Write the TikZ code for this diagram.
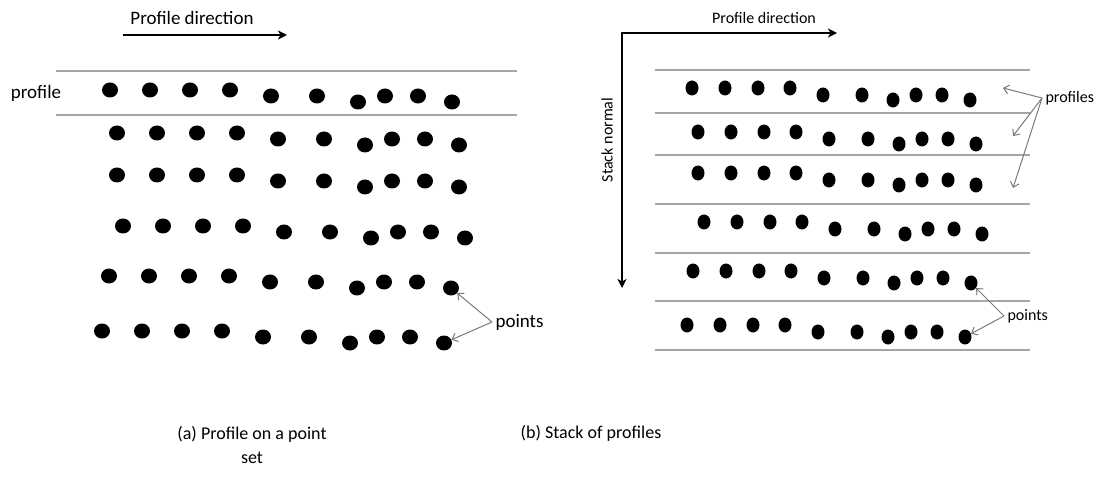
\documentclass[tikz,border=0pt]{standalone}
\usepackage{fontspec}
\setmainfont{Carlito}
\usetikzlibrary{arrows.meta,positioning,shapes.geometric}
\definecolor{rulegray}{HTML}{A6A6A6}
\definecolor{ptrgray}{HTML}{7A7A7A}
\tikzset{
  headtip/.tip={Stealth[length=9pt,width=9pt,inset=2.5pt]},
  axis/.style={line width=1.8pt},
  rule/.style={draw=rulegray,line width=2pt},
  pointer/.style={-{Straight Barb[length=5pt,width=9pt]},draw=ptrgray,line width=1pt},
  dotA/.style={ellipse,fill=black,inner sep=0pt,minimum width=16pt,minimum height=15pt},
  dotB/.style={ellipse,fill=black,inner sep=0pt,minimum width=13pt,minimum height=15pt},
  lbl/.style={font=\fontsize{19}{23}\selectfont},
  lblsmall/.style={font=\fontsize{16}{19}\selectfont},
  caption/.style={font=\fontsize{18}{24}\selectfont,align=center}
}

\begin{document}
\begin{tikzpicture}[x=1pt,y=-1pt]
  \useasboundingbox (0,0) rectangle (1105,486);
  % (a) one profile on the point set
  \draw[rule] (56,71) -- (517,71) (56,115) -- (517,115);
  \foreach \rx/\ry [count=\r] in {110/90,117/133,117/175,123/226,109/276,102/331}
    \foreach \dx/\dy [count=\c] in {0/0,40/0,80/0,120/0,161/6,207/6,248/12,275/6,308/6,342/12}
      \node[dotA] (a-\r-\c) at (\rx+\dx,\ry+\dy) {};
  \node[lbl] (dirA) at (192,18) {Profile direction};
  \coordinate (dirA-s) at (123,35);
  \coordinate (dirA-e) at (287,35);
  \draw[axis,-headtip] (dirA-s) -- (dirA-e);
  \node[lbl] (profA) at (36,93) {profile};
  \node[lbl,anchor=west] (ptsA) at (492,322) {points};
  \draw[pointer] (ptsA.west) -- (a-5-10);
  \draw[pointer] (ptsA.west) -- (a-6-10);
  \node[caption] (capA) at (252,445) {(a) Profile on a point\\set};

  % (b) stacked profiles
  \foreach \y in {70,113,155,204,253,301,350} \draw[rule] (655,\y) -- (1030,\y);
  \foreach \rx/\ry [count=\r] in {692/88,698/132,698/173,704/222,693/271,687/325}
    \foreach \dx/\dy [count=\c] in {0/0,33/0,66/0,98/0,131/7,170/7,201/12,224/7,250/7,278/12}
      \node[dotB] (b-\r-\c) at (\rx+\dx,\ry+\dy) {};
  \coordinate (org) at (622,33);
  \coordinate (dirB-e) at (837,33);
  \coordinate (nrm-e) at (622,288);
  \draw[axis,headtip-headtip] (dirB-e) -- (org) -- (nrm-e);
  \node[lblsmall] (dirB) at (764,18) {Profile direction};
  \node[lblsmall,rotate=90] (nrm) at (607,140) {Stack normal};
  \node[lblsmall,anchor=west] (profB) at (1042,98) {profiles};
  \coordinate (profB-1) at (1003,88);
  \coordinate (profB-2) at (1013,136);
  \coordinate (profB-3) at (1013,188);
  \foreach \p in {1,2,3} \draw[pointer] (profB.west) -- (profB-\p);
  \node[lblsmall,anchor=west] (ptsB) at (1004,316) {points};
  \draw[pointer] (ptsB.west) -- (b-5-10);
  \draw[pointer] (ptsB.west) -- (b-6-10);
  \node[caption] (capB) at (591,433) {(b) Stack of profiles};
\end{tikzpicture}
\end{document}
